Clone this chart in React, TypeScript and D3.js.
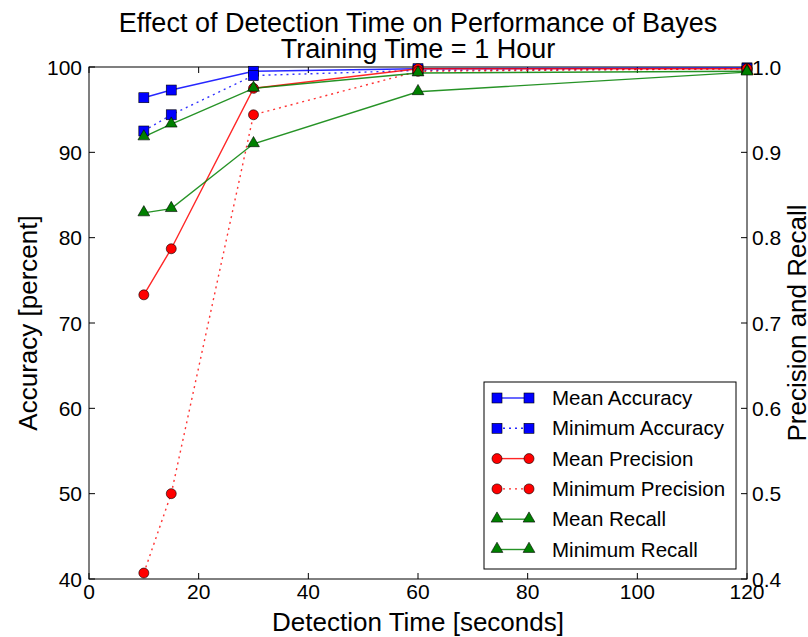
import React from "react";
import * as d3 from "d3";

const times = [10, 15, 30, 60, 120];
const meanAccuracy = [96.4, 97.3, 99.5, 99.8, 99.9];
const minAccuracy = [92.5, 94.4, 99.0, 99.6, 99.8];
const meanPrecision = [0.733, 0.787, 0.975, 0.998, 0.998];
const minPrecision = [0.407, 0.5, 0.944, 0.995, 0.998];
const meanRecall = [0.918, 0.933, 0.975, 0.993, 0.995];
const minRecall = [0.829, 0.834, 0.91, 0.971, 0.994];

const xTicks = [0, 20, 40, 60, 80, 100, 120];
const yLeftTicks = [40, 50, 60, 70, 80, 90, 100];
const yRightTicks = [0.4, 0.5, 0.6, 0.7, 0.8, 0.9, 1.0];

const W = 808, H = 637;
const L = 89, R = 747, T = 67, B = 579;
const FONT = "'Liberation Sans', Arial, sans-serif";

type Series = { name: string; values: number[]; axis: "left" | "right"; color: string; dash: string | null; marker: "square" | "circle" | "triangle" };

const series: Series[] = [
  { name: "Mean Accuracy", values: meanAccuracy, axis: "left", color: "#0000ff", dash: null, marker: "square" },
  { name: "Minimum Accuracy", values: minAccuracy, axis: "left", color: "#0000ff", dash: "2,4", marker: "square" },
  { name: "Mean Precision", values: meanPrecision, axis: "right", color: "#ff0000", dash: null, marker: "circle" },
  { name: "Minimum Precision", values: minPrecision, axis: "right", color: "#ff0000", dash: "2,4", marker: "circle" },
  { name: "Mean Recall", values: meanRecall, axis: "right", color: "#008000", dash: null, marker: "triangle" },
  { name: "Minimum Recall", values: minRecall, axis: "right", color: "#008000", dash: null, marker: "triangle" },
];

function Marker({ type, x, y, color }: { type: string; x: number; y: number; color: string }) {
  if (type === "square") return <rect x={x - 5} y={y - 5} width={10} height={10} fill={color} stroke="#000" strokeWidth={0.6} />;
  if (type === "circle") return <circle cx={x} cy={y} r={5} fill={color} stroke="#000" strokeWidth={0.6} />;
  const p = d3.symbol().type(d3.symbolTriangle).size(60)();
  return <path d={p || ""} transform={`translate(${x},${y - 0.5})`} fill={color} stroke="#000" strokeWidth={0.6} />;
}

export default function App() {
  const x = d3.scaleLinear().domain([0, 120]).range([L, R]);
  const yL = d3.scaleLinear().domain([40, 100]).range([B, T]);
  const yR = d3.scaleLinear().domain([0.4, 1.0]).range([B, T]);

  const legendX = 484, legendY = 382, legendW = 252, legendH = 187;
  const rowH = 30.3;

  return (
    <svg width={W} height={H} style={{ display: "block", position: "absolute", left: 0, top: 0 }} fontFamily={FONT}>
      <rect width={W} height={H} fill="#fff" />
      <defs>
        <clipPath id="plot"><rect x={L} y={T - 6} width={R - L} height={B - T + 12} /></clipPath>
      </defs>
      <rect x={L} y={T} width={R - L} height={B - T} fill="none" stroke="#000" strokeWidth={1} />
      {xTicks.map((t) => (
        <g key={"x" + t}>
          <line x1={x(t)} x2={x(t)} y1={B} y2={B - 6} stroke="#000" />
          <line x1={x(t)} x2={x(t)} y1={T} y2={T + 6} stroke="#000" />
          <text x={x(t)} y={B + 20} fontSize={21} textAnchor="middle">{t}</text>
        </g>
      ))}
      {yLeftTicks.map((t) => (
        <g key={"yl" + t}>
          <line x1={L} x2={L + 6} y1={yL(t)} y2={yL(t)} stroke="#000" />
          <text x={L - 7} y={yL(t) + 7.5} fontSize={21} textAnchor="end">{t}</text>
        </g>
      ))}
      {yRightTicks.map((t) => (
        <g key={"yr" + t}>
          <line x1={R} x2={R - 6} y1={yR(t)} y2={yR(t)} stroke="#000" />
          <text x={R + 5} y={yR(t) + 7.5} fontSize={21} textAnchor="start">{t.toFixed(1)}</text>
        </g>
      ))}
      <g clipPath="url(#plot)">
        {series.map((s) => {
          const yy = s.axis === "left" ? yL : yR;
          const line = d3.line<number>().x((_, i) => x(times[i])).y((v) => yy(v));
          return (
            <path key={s.name + "l"} d={line(s.values) || ""} fill="none" stroke={s.color} strokeWidth={1.4} strokeDasharray={s.dash || undefined} strokeOpacity={s.dash ? 0.8 : 0.85} />
          );
        })}
      </g>
      {series.map((s) => {
        const yy = s.axis === "left" ? yL : yR;
        return (
          <g key={s.name + "m"}>
            {s.values.map((v, i) => (
              <Marker key={i} type={s.marker} x={x(times[i])} y={yy(v)} color={s.color} />
            ))}
          </g>
        );
      })}
      <rect x={legendX} y={legendY} width={legendW} height={legendH} fill="#fff" stroke="#000" strokeWidth={1} />
      {series.map((s, i) => {
        const cy = legendY + 16 + i * rowH;
        const x1 = legendX + 13, x2 = legendX + 45;
        return (
          <g key={s.name + "leg"}>
            <line x1={x1} x2={x2} y1={cy} y2={cy} stroke={s.color} strokeWidth={1.4} strokeDasharray={s.dash || undefined} strokeOpacity={0.85} />
            <Marker type={s.marker} x={x1} y={cy} color={s.color} />
            <Marker type={s.marker} x={x2} y={cy} color={s.color} />
            <text x={legendX + 68} y={cy + 7} fontSize={20.5}>{s.name}</text>
          </g>
        );
      })}
      <text x={418} y={32} fontSize={27} textAnchor="middle">Effect of Detection Time on Performance of Bayes</text>
      <text x={418} y={58} fontSize={27} textAnchor="middle">Training Time = 1 Hour</text>
      <text x={418} y={631} fontSize={26} textAnchor="middle">Detection Time [seconds]</text>
      <text transform={`translate(37,${(T + B) / 2}) rotate(-90)`} fontSize={26} textAnchor="middle">Accuracy [percent]</text>
      <text transform={`translate(806,${(T + B) / 2}) rotate(-90)`} fontSize={26} textAnchor="middle">Precision and Recall</text>
    </svg>
  );
}
